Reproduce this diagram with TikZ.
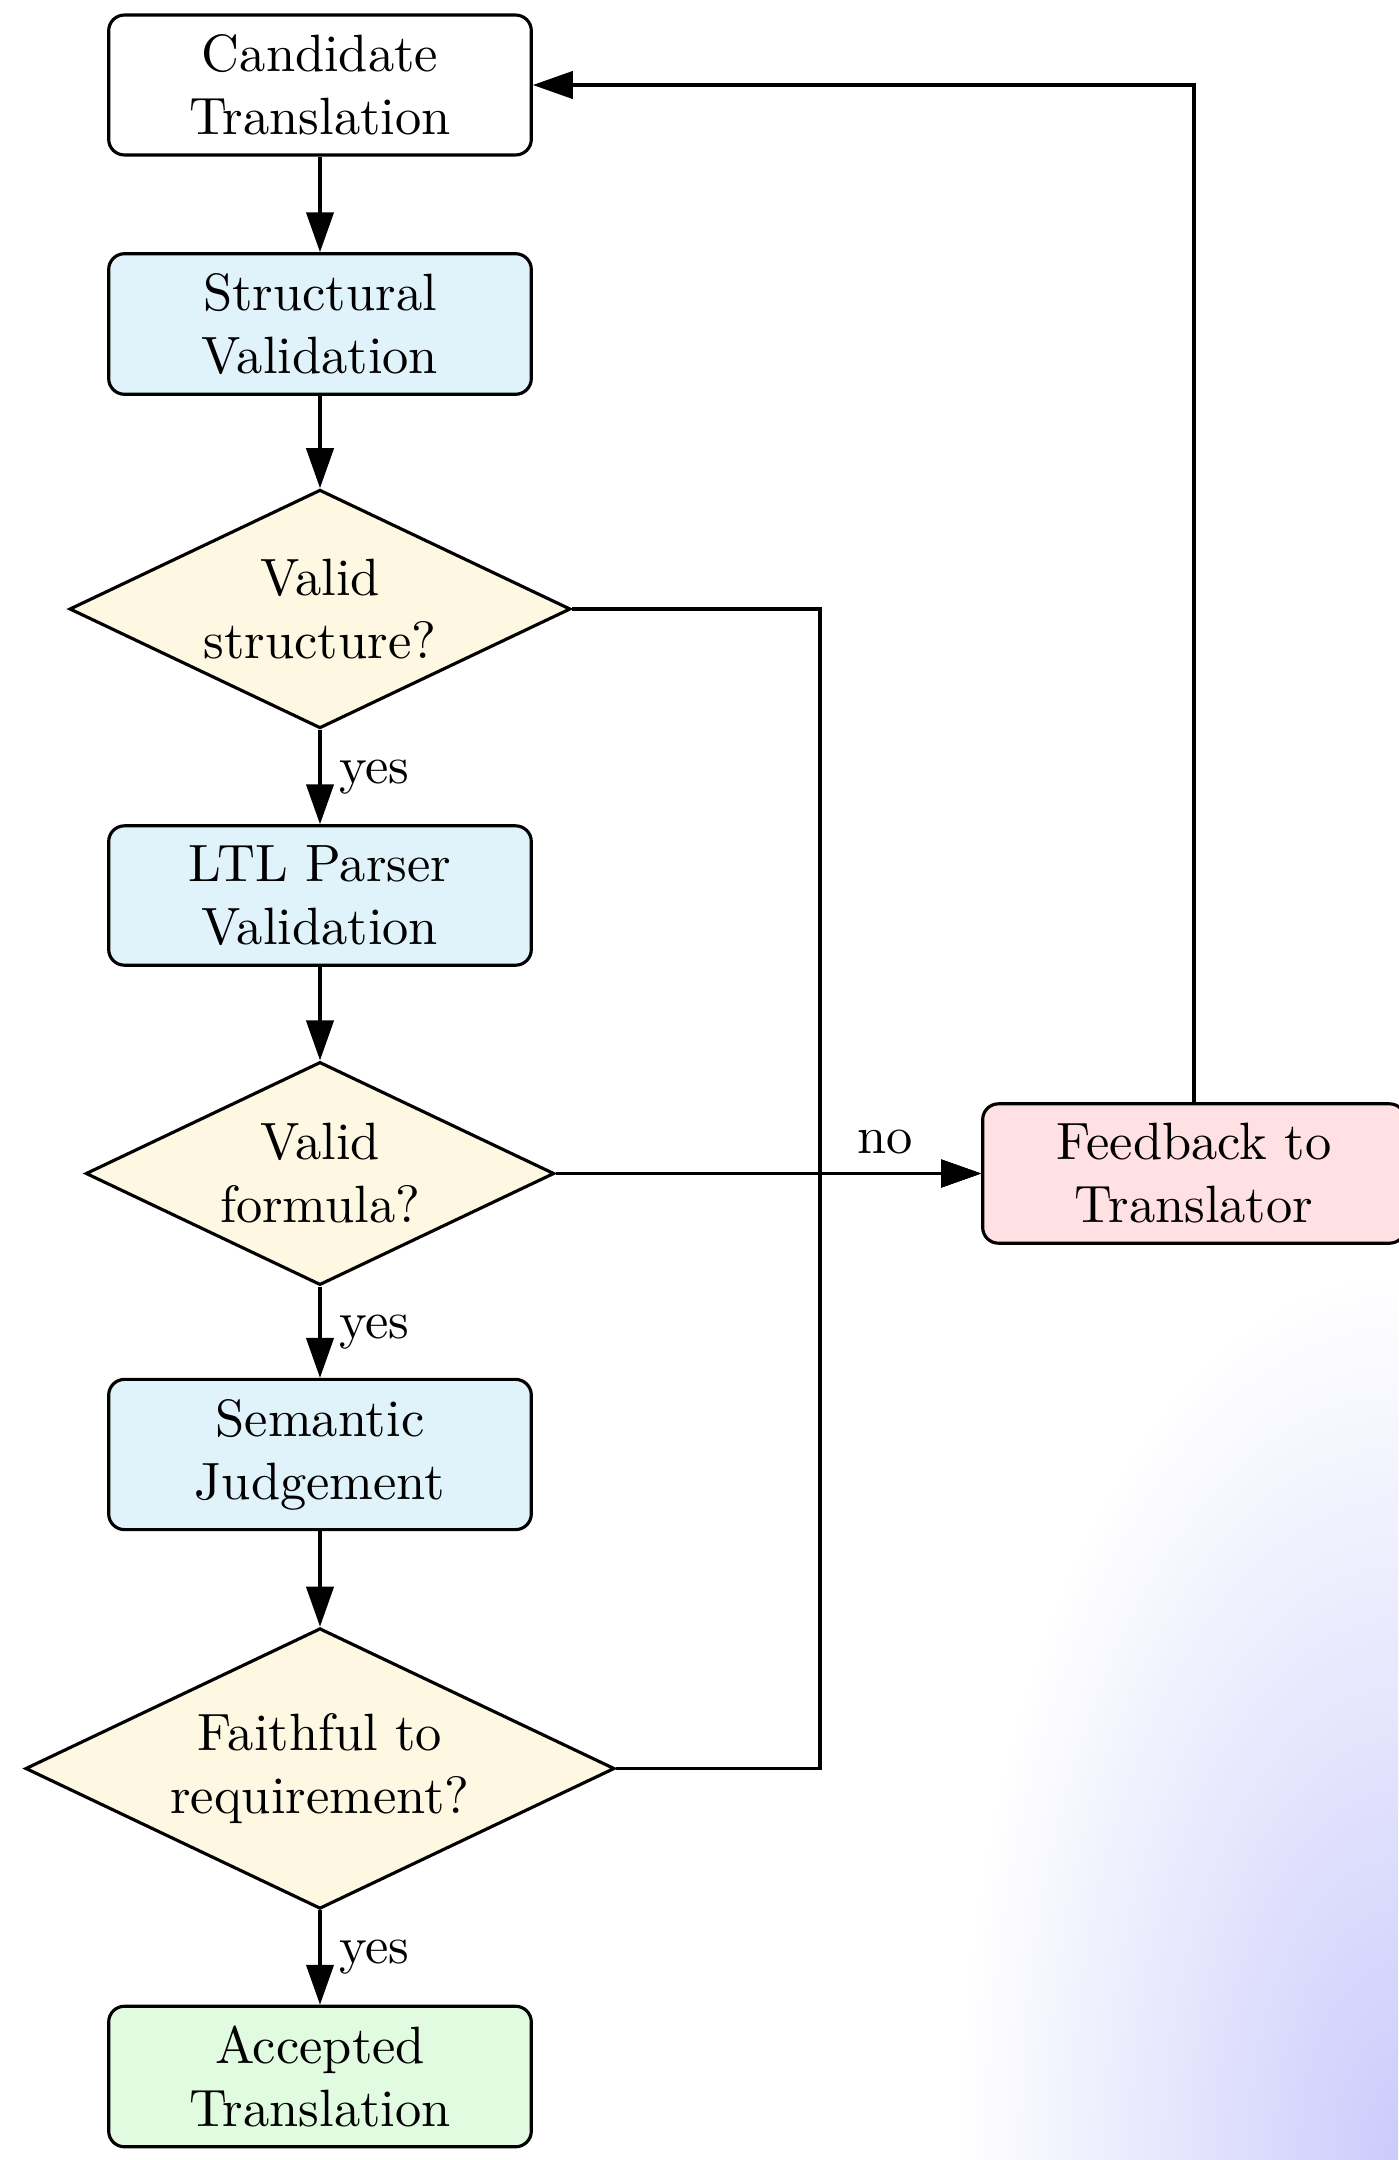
\documentclass[tikz,border=0pt]{standalone}
\usetikzlibrary{shapes.geometric,arrows.meta}
\definecolor{procfill}{HTML}{E0F3FA}
\definecolor{decfill}{HTML}{FEF8E3}
\definecolor{failfill}{HTML}{FFE0E3}
\definecolor{okfill}{HTML}{E0FBE0}
\definecolor{glowc}{HTML}{CBCBFC}
% soft lavender glow that fades out towards the edge of its ellipse
\pgfdeclareradialshading{cornerglow}{\pgfpoint{0bp}{0bp}}{color(0bp)=(glowc); color(25bp)=(white); color(50bp)=(white)}
\begin{document}
\begin{tikzpicture}[x=0.190476pt, y=-0.190476pt,
  base/.style={draw, line width=0.6pt, align=center},
  procbox/.style={base, rounded corners=3pt, minimum width=80.5pt, inner xsep=3pt, inner ysep=3.75pt},
  decision/.style={base, shape=diamond, aspect=2.1, inner sep=1.8pt, fill=decfill},
  flow/.style={line width=0.6pt, -{Triangle[length=7.6pt,width=5.2pt]}},
  lbl/.style={inner sep=3.33pt}
]
\useasboundingbox (0,0) rectangle (1398,2160);

% background glow in the lower right corner
\begin{scope}
  \clip (0,0) rectangle (1398,2160);
  \shade[shading=cornerglow] (1398,2160) ellipse [x radius=440, y radius=890];
\end{scope}

% main column
\node[procbox] (cand) at (320,85) {Candidate\\Translation};
\node[procbox, fill=procfill] (struct) at (320,324) {Structural\\Validation};
\node[decision] (vs) at (320,609) {Valid\\structure?};
\node[procbox, fill=procfill] (ltl) at (320,895.5) {LTL Parser\\Validation};
\node[decision] (vf) at (320,1173.5) {Valid\\formula?};
\node[procbox, fill=procfill] (sem) at (320,1454.5) {Semantic\\Judgement};
\node[decision] (vr) at (320,1768.5) {Faithful to\\requirement?};
\node[procbox, fill=okfill] (acc) at (320,2076.5) {Accepted\\Translation};

% feedback branch
\node[procbox, fill=failfill] (fb) at (1194,1173.5) {Feedback to\\Translator};
\coordinate (merge) at (820,1173.5);

% connectors
\draw[flow] (cand) -- (struct);
\draw[flow] (struct) -- (vs);
\draw[flow] (vs) -- node[lbl, right] {yes} (ltl);
\draw[flow] (ltl) -- (vf);
\draw[flow] (vf) -- node[lbl, right] {yes} (sem);
\draw[flow] (sem) -- (vr);
\draw[flow] (vr) -- node[lbl, right] {yes} (acc);

\draw[flow] (vf.east) -- node[lbl, above, pos=0.774] {no} (fb.west);
\draw[flow] (vs.east) -| (merge) -- (fb.west);
\draw[flow] (vr.east) -| (merge) -- (fb.west);
\draw[flow] (fb.north) |- (cand.east);
\end{tikzpicture}
\end{document}
